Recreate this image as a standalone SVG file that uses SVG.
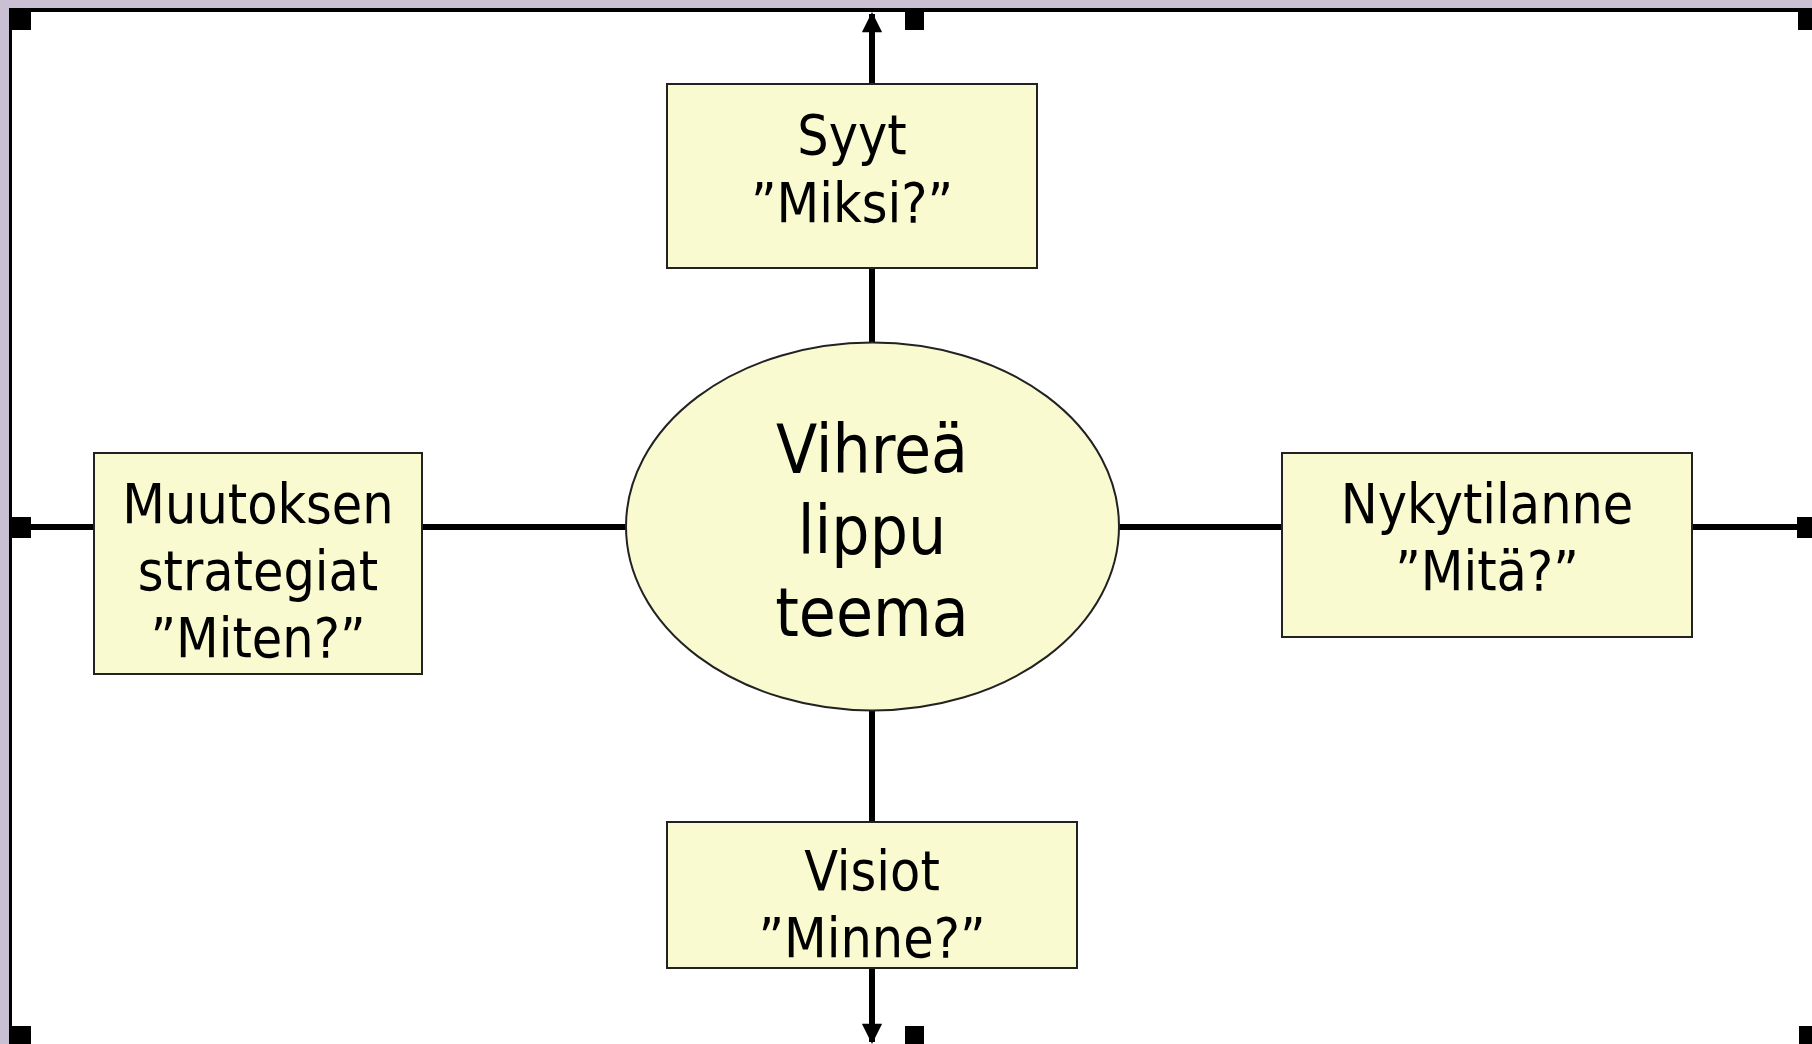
<svg xmlns="http://www.w3.org/2000/svg" width="1812" height="1044" viewBox="0 0 1812 1044">
  <style>
    .box { fill: #fafad0; stroke: #222; stroke-width: 2; }
    .lbl { font-family: "DejaVu Sans Condensed", "Noto Sans", "DejaVu Sans", sans-serif; font-size: 55px; fill: #000; text-anchor: middle; }
    .big { font-size: 67px; }
    .conn { stroke: #000; stroke-width: 6; fill: none; }
    .handle { fill: #000; }
  </style>
  <defs>
    <marker id="arr" viewBox="0 0 10 10" refX="9" refY="5" markerWidth="3.6" markerHeight="3.4" orient="auto" markerUnits="strokeWidth">
      <path d="M0,0 L10,5 L0,10 Z" fill="#000"/>
    </marker>
  </defs>

  <!-- frame -->
  <rect x="0" y="0" width="1812" height="1044" fill="#c9c1d3"/>
  <rect x="9" y="8" width="1803" height="1036" fill="#ffffff"/>
  <rect x="9" y="8" width="1803" height="4" fill="#000"/>
  <rect x="9" y="8" width="3" height="1036" fill="#000"/>

  <!-- connectors -->
  <g id="connectors">
    <line class="conn" x1="872" y1="84" x2="872" y2="14" marker-end="url(#arr)"/>
    <line class="conn" x1="872" y1="268" x2="872" y2="343"/>
    <line class="conn" x1="872" y1="710" x2="872" y2="822"/>
    <line class="conn" x1="872" y1="968" x2="872" y2="1042" marker-end="url(#arr)"/>
    <line class="conn" x1="12" y1="527" x2="94" y2="527"/>
    <line class="conn" x1="422" y1="527" x2="626" y2="527"/>
    <line class="conn" x1="1119" y1="527" x2="1282" y2="527"/>
    <line class="conn" x1="1692" y1="527" x2="1812" y2="527"/>
  </g>

  <!-- handles -->
  <g id="handles">
    <rect class="handle" x="9" y="8" width="22" height="22"/>
    <rect class="handle" x="905" y="11" width="19" height="19"/>
    <rect class="handle" x="1798" y="11" width="14" height="19"/>
    <rect class="handle" x="12" y="517" width="19" height="21"/>
    <rect class="handle" x="1797" y="517" width="15" height="21"/>
    <rect class="handle" x="9" y="1026" width="22" height="18"/>
    <rect class="handle" x="905" y="1026" width="19" height="18"/>
    <rect class="handle" x="1799" y="1026" width="13" height="18"/>
  </g>

  <g id="node-syyt">
    <rect class="box" x="667" y="84" width="370" height="184"/>
    <text class="lbl" x="852" y="154">Syyt</text>
    <text class="lbl" x="852" y="222">”Miksi?”</text>
  </g>

  <g id="node-center">
    <ellipse class="box" cx="872.5" cy="526.5" rx="246.5" ry="184"/>
    <text class="lbl big" x="872" y="473">Vihreä</text>
    <text class="lbl big" x="872" y="554">lippu</text>
    <text class="lbl big" x="872" y="636">teema</text>
  </g>

  <g id="node-muutoksen">
    <rect class="box" x="94" y="453" width="328" height="221"/>
    <text class="lbl" x="258" y="523">Muutoksen</text>
    <text class="lbl" x="258" y="590">strategiat</text>
    <text class="lbl" x="258" y="657">”Miten?”</text>
  </g>

  <g id="node-nykytilanne">
    <rect class="box" x="1282" y="453" width="410" height="184"/>
    <text class="lbl" x="1487" y="523">Nykytilanne</text>
    <text class="lbl" x="1487" y="590">”Mitä?”</text>
  </g>

  <g id="node-visiot">
    <rect class="box" x="667" y="822" width="410" height="146"/>
    <text class="lbl" x="872" y="890">Visiot</text>
    <text class="lbl" x="872" y="957">”Minne?”</text>
  </g>
</svg>
